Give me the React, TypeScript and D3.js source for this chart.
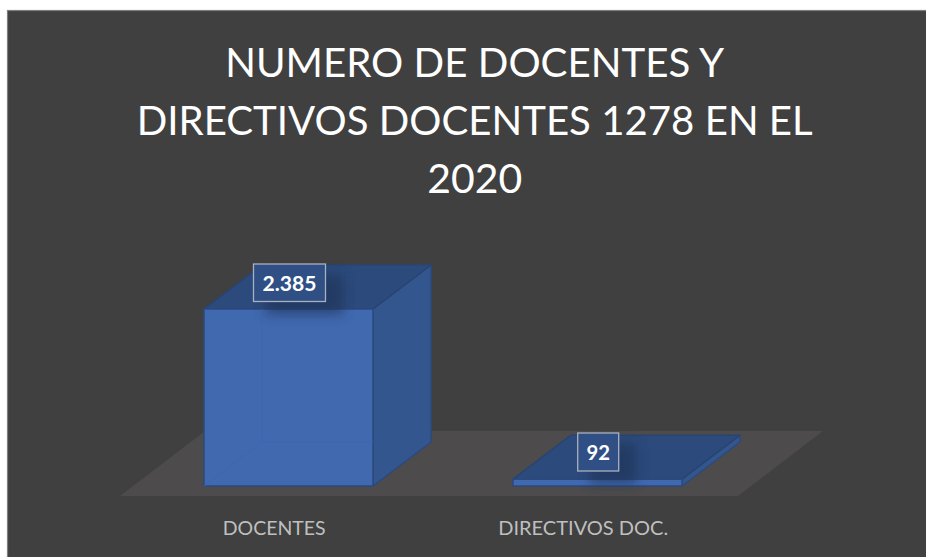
import React from "react";
import * as d3 from "d3";

const categories = ["DOCENTES", "DIRECTIVOS DOC."];
const values = [2385, 92];
const valueLabels = ["2.385", "92"];
const titleLines = ["NUMERO DE DOCENTES Y", "DIRECTIVOS DOCENTES 1278 EN EL", "2020"];

const W = 926, H = 557;
const baseY = 486;
const depthX = 58, depthY = -44;

const y = d3.scaleLinear().domain([0, 2385]).range([baseY, 309]);
const x = d3.scaleBand<string>().domain(categories).range([204, 682]).paddingInner(140 / 309).paddingOuter(0);

const pts = (p: [number, number][]) => p.map((q) => q.join(",")).join(" ");
const font = "Lato, Carlito, Calibri, sans-serif";

const titleWidths = [499, 676, 95];
const catWidths = [103, 170];
const valueWidths = [54, 23.5];
const labelBoxes = [
  { x: 253.5, w: 72, top: 264, h: 37.5, base: 291 },
  { x: 577.7, w: 41, top: 433, h: 38, base: 460 },
];

export default function App() {
  const bw = x.bandwidth();
  return (
    <svg width={W} height={H} viewBox={`0 0 ${W} ${H}`} style={{ position: "absolute", left: 0, top: 0, display: "block" }}>
      <defs>
        <filter id="soft" x="-60%" y="-60%" width="220%" height="220%">
          <feGaussianBlur stdDeviation="6" />
        </filter>
      </defs>
      <rect x={0} y={0} width={W} height={H} fill="#ffffff" />
      <rect x={7.5} y={10.5} width={W} height={H} fill="#404040" stroke="#7f7f7f" strokeWidth={1.2} />

      {titleLines.map((t, i) => (
        <text key={t} x={474.7} y={76.5 + i * 58} textAnchor="middle" textLength={titleWidths[i]} lengthAdjust="spacingAndGlyphs" fontFamily={font} fontSize={41.5} fill="#ffffff">{t}</text>
      ))}

      <polygon points={pts([[120, 496], [205, 431], [823, 431], [738, 496]])} fill="#4d4b4b" />

      {categories.map((c, i) => {
        const x0 = x(c)!;
        const x1 = x0 + bw;
        const top = y(values[i]);
        const b = labelBoxes[i];
        return (
          <g key={c}>
            <polygon points={pts([[x0 + depthX, baseY + depthY], [x1 + depthX, baseY + depthY], [x1, baseY], [x0, baseY]])} fill="#3d64a8" />
            <polygon points={pts([[x1, top], [x1 + depthX, top + depthY], [x1 + depthX, baseY + depthY], [x1, baseY]])} fill="#34568f" stroke="#2b4a7e" strokeWidth={1.5} strokeLinejoin="round" />
            <polygon points={pts([[x0, top], [x0 + depthX, top + depthY], [x1 + depthX, top + depthY], [x1, top]])} fill="#2c4a7c" stroke="#284571" strokeWidth={1.5} strokeLinejoin="round" />
            <rect x={x0} y={top} width={bw} height={baseY - top} fill="#4169b0" stroke="#2b4a80" strokeWidth={1.5} strokeLinejoin="round" />
            {i === 0 && (
              <path d={`M${x0 + depthX},${top} V${baseY + depthY} L${x0},${baseY} M${x0 + depthX},${baseY + depthY} H${x1}`} fill="none" stroke="#3f66ae" strokeWidth={1} />
            )}
            <rect x={b.x + 12} y={b.top + 10} width={b.w + 6} height={b.h + 3} fill="#1e3355" opacity={0.6} filter="url(#soft)" />
            <rect x={b.x} y={b.top} width={b.w} height={b.h} fill="#2f4f85" stroke="#a9b1bf" strokeWidth={1.3} />
            <text x={b.x + b.w / 2} y={b.base} textAnchor="middle" textLength={valueWidths[i]} lengthAdjust="spacingAndGlyphs" fontFamily={font} fontWeight={700} fontSize={21} fill="#ffffff">{valueLabels[i]}</text>
            <text x={x0 + bw / 2 - 14.3} y={535} textAnchor="middle" textLength={catWidths[i]} lengthAdjust="spacingAndGlyphs" fontFamily={font} fontSize={19.5} fill="#bfbfbf">{c}</text>
          </g>
        );
      })}
    </svg>
  );
}
